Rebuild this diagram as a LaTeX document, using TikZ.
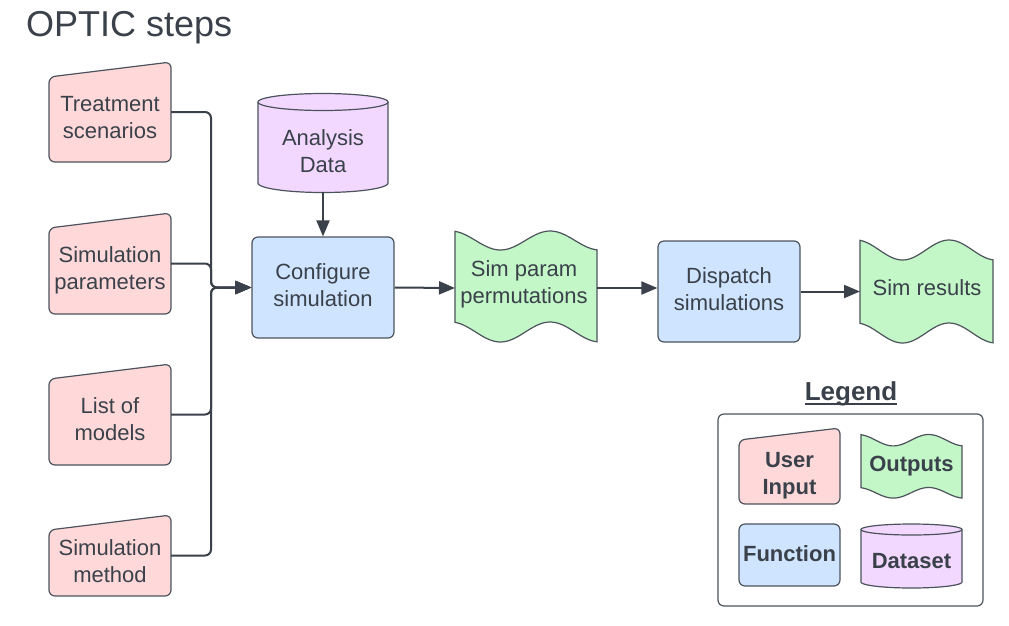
\documentclass[tikz,border=0pt]{standalone}
\usepackage{fontspec}
\setmainfont{Liberation Sans}
\usetikzlibrary{arrows.meta,calc}
\definecolor{txtgray}{HTML}{3A414A}
\definecolor{linegray}{HTML}{4C535C}
\definecolor{inpink}{HTML}{FFD9D9}
\definecolor{fnblue}{HTML}{CFE4FF}
\definecolor{outgreen}{HTML}{C3F7C8}
\definecolor{dspurple}{HTML}{F2D8FF}
% tape: L, W, top, bottom, amplitude top, amplitude bottom
\newcommand\mytape[6]{%
  \filldraw[shapeline, fill=outgreen]
    plot[domain=0:1,samples=50,variable=\u] ({#1+\u*#2},{#3+#5-#5*cos(360*(\u+0.03)/0.7)})
    -- plot[domain=1:0,samples=50,variable=\u] ({#1+\u*#2},{#4+#6-#6*cos(360*(\u+0.03)/0.7)})
    -- cycle;}
% cylinder: cx, rx, top cy, bottom cy, ry top, ry bottom
\newcommand\mycyl[6]{%
  \filldraw[shapeline, fill=dspurple]
    plot[domain=180:360,samples=50,variable=\t] ({#1+#2*cos(\t)},{#4-#6*sin(\t)})
    -- plot[domain=0:180,samples=50,variable=\t] ({#1+#2*cos(\t)},{#3-#5*sin(\t)})
    -- cycle;
  \draw[shapeline] plot[domain=180:360,samples=50,variable=\t] ({#1+#2*cos(\t)},{#3-#5*sin(\t)});}
% manual input: L, R, top-left, top-right, bottom
\newcommand\myin[5]{%
  \filldraw[shapeline, fill=inpink, rounded corners=6pt] (#1,#3) -- (#2,#4) -- (#2,#5) -- (#1,#5) -- cycle;}
\begin{document}
\begin{tikzpicture}[x=1pt,y=-1pt,
  shapeline/.style={draw=linegray, line width=1.2pt},
  lbl/.style={font=\fontsize{22}{27}\selectfont, text=txtgray, align=center, inner sep=0pt},
  blbl/.style={font=\fontsize{22}{27}\selectfont\bfseries, text=txtgray, align=center, inner sep=0pt},
  geo/.style={inner sep=0pt, outer sep=0pt},
  conn/.style={draw=txtgray, line width=2pt, rounded corners=6pt, -{Triangle[length=16pt,width=13pt]}},
  fnbox/.style={shapeline, fill=fnblue, rounded corners=6pt, inner sep=0pt}]
\useasboundingbox (0,0) rectangle (1009,625);

% title
\node[anchor=base west, font=\fontsize{36}{40}\selectfont, text=txtgray, inner sep=0pt] (title) at (26,36) {OPTIC steps};

% user inputs
\myin{49}{171}{77}{62}{162}
\myin{49}{171}{228}{213}{314}
\myin{49}{171}{379}{364}{465}
\myin{49}{171}{530}{515}{596}
\node[geo, minimum width=122pt, minimum height=100pt] (ts) at (110,112) {};
\node[geo, minimum width=122pt, minimum height=101pt] (sp) at (110,263.5) {};
\node[geo, minimum width=122pt, minimum height=101pt] (lm) at (110,414.5) {};
\node[geo, minimum width=122pt, minimum height=81pt] (sm) at (110,555.5) {};
\node[lbl] (tstext) at (110,118) {Treatment\\scenarios};
\node[lbl] (sptext) at (110,270) {Simulation\\parameters};
\node[lbl] (lmtext) at (110,419.5) {List of\\models};
\node[lbl] (smtext) at (110,561) {Simulation\\method};

% analysis data
\mycyl{323}{65}{102}{183}{8.5}{9.5}
\node[geo, minimum width=130pt, minimum height=99pt] (ad) at (323,142.5) {};
\node[lbl] (adtext) at (323,151) {Analysis\\Data};

% configure
\node[fnbox, minimum width=142pt, minimum height=101pt] (cfg) at (323,287.5) {};
\node[lbl] (cfgtext) at (323,285.5) {Configure\\simulation};

% sim param permutations
\mytape{455}{142}{231}{322}{9.5}{10}
\node[geo, minimum width=142pt, minimum height=80pt] (tape1) at (526,288) {};
\node[lbl] (tape1text) at (524,284.5) {Sim param\\permutations};

% dispatch
\node[fnbox, minimum width=142pt, minimum height=101pt] (disp) at (729,291.5) {};
\node[lbl] (disptext) at (729,289.5) {Dispatch\\simulations};

% sim results
\mytape{860}{133}{240}{323}{10}{10}
\node[geo, minimum width=133pt, minimum height=80pt] (tape2) at (926.5,291.5) {};
\node[lbl] (tape2text) at (927,288) {Sim results};

% connectors
\coordinate (bus) at (211,288);
\draw[conn] (ts.east) -- (ts.east -| bus) |- (cfg.west);
\draw[conn] (sp.east) -- (sp.east -| bus) |- (cfg.west);
\draw[conn] (lm.east) -- (lm.east -| bus) |- (cfg.west);
\draw[conn] (sm.east) -- (sm.east -| bus) |- (cfg.west);
\draw[conn] (ad.south) -- (cfg.north);
\draw[conn] (cfg.east) -- (tape1.west);
\draw[conn] (tape1.east) -- (tape1.east -| disp.west);
\draw[conn] (disp.east) -- (tape2.west);

% legend
\node[anchor=base, font=\fontsize{26}{30}\selectfont\bfseries, text=txtgray, inner sep=0pt] (legtitle) at (851,400) {Legend};
\draw[txtgray, line width=1.8pt] ([yshift=-4pt]legtitle.base west) -- ([yshift=-4pt]legtitle.base east);
\node[draw=linegray, line width=1.2pt, rounded corners=6pt, minimum width=265pt, minimum height=192pt, inner sep=0pt] (legbox) at (850.5,510) {};
\myin{739}{840}{440}{428}{504}
\node[blbl] (uitext) at (789.5,476) {User\\Input};
\mytape{861}{101}{434.5}{487.5}{5.7}{5.3}
\node[blbl] (outtext) at (911.5,466.5) {Outputs};
\node[fnbox, minimum width=101pt, minimum height=62pt] (fn) at (789.5,555) {};
\node[blbl] (fntext) at (789.5,553.5) {Function};
\mycyl{911.5}{50.5}{529.5}{582}{5.5}{6}
\node[blbl] (dstext) at (911.5,561) {Dataset};
\end{tikzpicture}
\end{document}
